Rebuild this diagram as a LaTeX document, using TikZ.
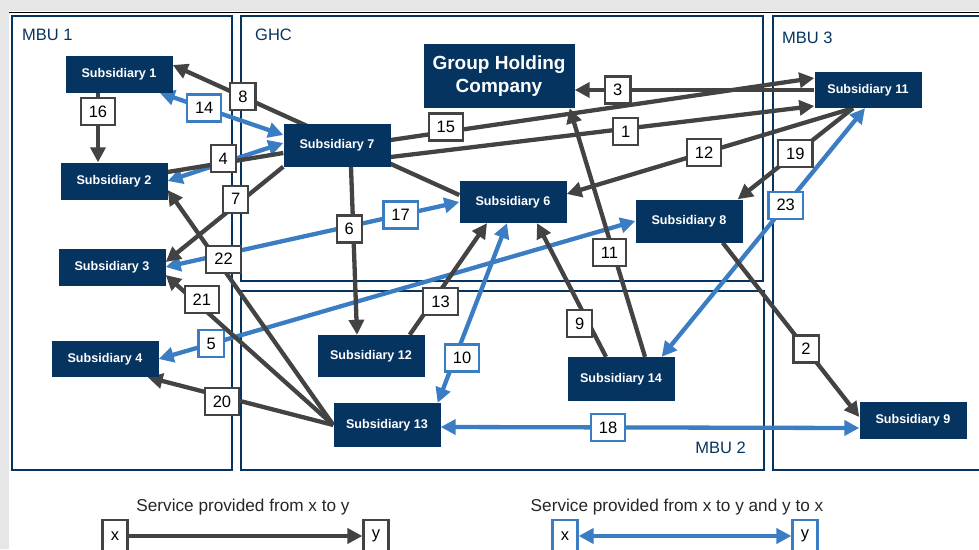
\documentclass[tikz,border=0pt]{standalone}
\usepackage{fontspec}
\setmainfont{Liberation Sans}
\usepackage{xcolor}
\usepackage{tikz}
\usetikzlibrary{arrows.meta}

\definecolor{navy}{HTML}{063460}
\definecolor{linkgray}{HTML}{434343}
\definecolor{linkblue}{HTML}{3A7DC2}
\definecolor{margin}{HTML}{E6E6E6}

\pgfdeclarelayer{frames}
\pgfdeclarelayer{links}
\pgfsetlayers{frames,links,main}

\begin{document}
\begin{tikzpicture}[
  x=1pt, y=-1pt,
  sub/.style={fill=navy, text=white, font=\bfseries\fontsize{12.6}{14}\selectfont, minimum width=107pt, minimum height=37pt, inner sep=0pt},
  num/.style={draw=linkgray, line width=2.2pt, fill=white, font=\fontsize{16.5}{16}\selectfont, minimum width=25pt, minimum height=27pt, inner xsep=8pt, inner ysep=0pt},
  bnum/.style={num, draw=linkblue},
  unitframe/.style={draw=navy, line width=1.8pt},
  mbu/.style={text=navy, font=\fontsize{16.5}{17}\selectfont, inner sep=0pt},
  link/.style={draw=linkgray, line width=4.3pt, -{Triangle[length=15pt, width=15pt]}},
  plainlink/.style={draw=linkgray, line width=4.3pt},
  blink/.style={draw=linkblue, line width=4.3pt, {Triangle[length=15pt, width=15pt]}-{Triangle[length=15pt, width=15pt]}}
]
  \useasboundingbox (0,0) rectangle (979,549);
  \clip (0,0) rectangle (979,549);
  \fill[margin] (0,0) rectangle (979,11);
  \fill[margin] (0,0) rectangle (9,549);
  \draw[line width=1.5pt] (9,12.5) -- (979,12.5);

  % business units
  \begin{pgfonlayer}{frames}
    \draw[unitframe] (12,16) rectangle (232,470);
    \draw[unitframe] (241,16) rectangle (763,281);
    \draw[unitframe] (241,291) rectangle (764,470);
    \draw[unitframe] (773,16) rectangle (995,470);
  \end{pgfonlayer}
  \node[mbu, anchor=west] (mbu1) at (22,35) {MBU 1};
  \node[mbu, anchor=west] (ghcunit) at (255,35) {GHC};
  \node[mbu, anchor=east] (mbu2) at (746,448) {MBU 2};
  \node[mbu, anchor=west] (mbu3) at (782,38) {MBU 3};

  % companies
  \node[sub] (s1) at (119,74) {Subsidiary 1};
  \node[sub] (s2) at (114,181) {Subsidiary 2};
  \node[sub] (s3) at (112,267) {Subsidiary 3};
  \node[sub, minimum height=36pt] (s4) at (105,359) {Subsidiary 4};
  \node[sub, minimum height=43pt] (s7) at (337,145) {Subsidiary 7};
  \node[sub, minimum width=151pt, minimum height=64pt, align=center, font=\bfseries\fontsize{19}{23}\selectfont] (ghc) at (499,76) {Group Holding\\Company};
  \node[sub, minimum height=36pt] (s11) at (868,90) {Subsidiary 11};
  \node[sub, minimum height=42pt] (s6) at (513,202) {Subsidiary 6};
  \node[sub, minimum height=43pt] (s8) at (689,221) {Subsidiary 8};
  \node[sub, minimum height=42pt] (s12) at (371,356) {Subsidiary 12};
  \node[sub, minimum height=44pt] (s14) at (621,379) {Subsidiary 14};
  \node[sub, minimum height=44pt] (s13) at (387,425) {Subsidiary 13};
  \node[sub] (s9) at (913,420) {Subsidiary 9};

  \begin{pgfonlayer}{links}
    % two-way services
    \draw[blink] ([xshift=-13pt]s1.south east) -- node[bnum, pos=0.36] {14} ([yshift=10pt]s7.west);
    \draw[blink] (s2.east) -- ([yshift=2pt]s7.west);
    \draw[blink] (s3.east) -- node[bnum, pos=0.8] {17} (s6.west);
    \draw[blink] (s4.east) -- node[bnum, pos=0.11] {5} (s8.west);
    \draw[blink] ([xshift=-6pt]s6.south) -- node[bnum, pos=0.75, xshift=7pt] {10} ([xshift=-3pt]s13.north east);
    \draw[blink] ([yshift=-2pt]s13.east) -- node[bnum, pos=0.4] {18} ([yshift=-8pt]s9.west);
    \draw[blink] ([xshift=-3pt]s11.south) -- node[bnum, pos=0.39] {23} ([xshift=-13pt]s14.north east);

    % one-way services
    \draw[link] ([xshift=-21pt]s1.south) -- node[num, pos=0.27] {16} ([xshift=-16pt]s2.north);
    \draw[link] ([yshift=7pt]s6.west) -- node[num, pos=0.755] {8} ([yshift=9pt]s1.east);
    \draw[plainlink] ([yshift=9pt]s2.east) -- node[num, pos=0.48, yshift=4pt] {4} ([yshift=-8pt]s7.west);
    \draw[link] ([yshift=5pt]s7.east) -- node[num, pos=0.13, yshift=5pt] {15} ([yshift=12pt]s11.west);
    \draw[link] ([yshift=-12pt]s7.east) -- node[num, pos=0.555, yshift=-3pt] {1} ([yshift=-16pt]s11.west);
    \draw[link] (s11.west) -- node[num, pos=0.82] {3} ([yshift=-14pt]ghc.east);
    \draw[link] ([xshift=-15pt]s11.south) -- node[num, pos=0.52] {12} ([yshift=8pt]s6.east);
    \draw[link] ([xshift=-15pt]s11.south) -- node[num, pos=0.5] {19} ([xshift=-5pt]s8.north east);
    \draw[link] ([xshift=-20pt]s8.south east) -- node[num, pos=0.61] {2} ([yshift=3pt]s9.west);
    \draw[link] ([xshift=24pt]s14.north) -- node[num, pos=0.418, xshift=-4pt] {11} ([xshift=-5pt]ghc.south east);
    \draw[link] ([xshift=-15pt]s14.north) -- node[num, pos=0.25, xshift=-9pt] {9} ([xshift=24pt]s6.south);
    \draw[link] ([xshift=-15pt]s12.north east) -- node[num, pos=0.295, xshift=8pt] {13} ([xshift=-26pt]s6.south);
    \draw[link] ([xshift=14pt]s7.south) -- node[num, pos=0.37, xshift=-4pt] {6} ([xshift=-14pt]s12.north);
    \draw[link] (s7.south west) -- node[num, pos=0.405, yshift=6pt] {7} ([yshift=5pt]s3.east);
    \draw[link] (s13.west) -- node[num, pos=0.663, yshift=10pt] {22} ([yshift=-9pt]s2.east);
    \draw[link] (s13.west) -- node[num, pos=0.784, yshift=8pt] {21} ([yshift=-8pt]s3.east);
    \draw[link] (s13.west) -- node[num, pos=0.6, yshift=-5pt] {20} ([xshift=-11pt]s4.south east);
  \end{pgfonlayer}

  % key
  \node[font=\fontsize{17.2}{18}\selectfont, text=black!85] (key1) at (243,507) {Service provided from x to y};
  \node[num, minimum height=32pt] (kx1) at (115,536) {x};
  \node[num, minimum height=32pt] (ky1) at (376,536) {y};
  \draw[link] (kx1) -- (ky1);
  \node[font=\fontsize{17.2}{18}\selectfont, text=black!85] (key2) at (677,507) {Service provided from x to y and y to x};
  \node[bnum, minimum height=32pt] (kx2) at (565,536) {x};
  \node[bnum, minimum height=32pt] (ky2) at (805,536) {y};
  \draw[blink] (kx2) -- (ky2);
\end{tikzpicture}
\end{document}
